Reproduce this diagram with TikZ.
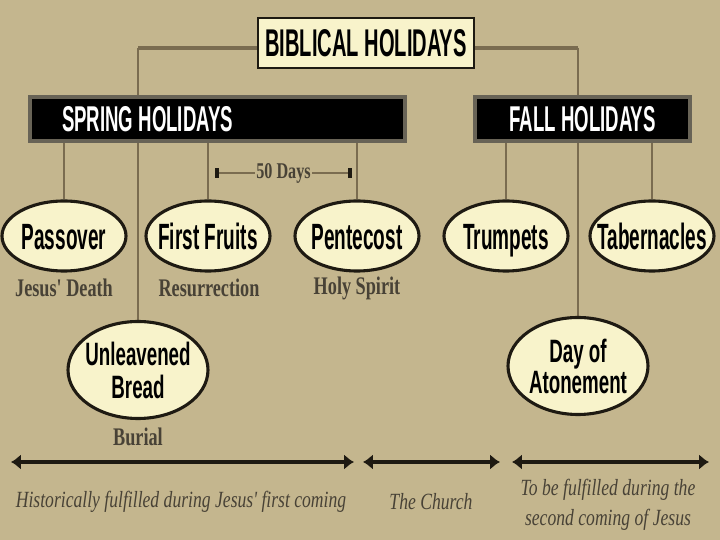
\documentclass[tikz,border=0pt]{standalone}
\usepackage{fontspec}
\usetikzlibrary{shapes.geometric,arrows.meta}

\newfontfamily\condsans[FakeStretch=0.52]{Liberation Sans}
\newfontfamily\widecondsans[FakeStretch=0.58]{Liberation Sans}
\newfontfamily\condserif[FakeStretch=0.72]{Liberation Serif}
\newfontfamily\erafont[FakeStretch=0.76]{Liberation Serif}

\definecolor{tan}{RGB}{196,182,142}
\definecolor{cream}{RGB}{248,243,203}
\definecolor{stemcol}{RGB}{122,108,80}
\definecolor{baredge}{RGB}{104,99,86}
\definecolor{ink}{RGB}{30,26,18}
\definecolor{softink}{RGB}{72,66,54}

\pgfdeclarelayer{bg}
\pgfsetlayers{bg,main}

% text in an oval takes no room, the oval size is fixed
\newcommand{\inoval}[2][-0.36em]{\makebox[0pt]{\raisebox{#1}[0pt][0pt]{#2}}}

\tikzset{
    headbox/.style={draw=ink, line width=2pt, fill=cream, minimum width=5.4cm,
        minimum height=1.25cm, inner sep=0pt,
        font=\condsans\bfseries\fontsize{27.5}{30}\selectfont},
    seasonbar/.style={draw=baredge, line width=2.5pt, fill=black, text=white,
        minimum height=1.1cm, inner sep=0pt,
        font=\condsans\bfseries\fontsize{25.5}{28}\selectfont},
    oval/.style={ellipse, draw=ink, line width=2.2pt, fill=cream,
        minimum width=3.1cm, minimum height=1.75cm, inner sep=0pt,
        font=\condsans\bfseries\fontsize{26}{28}\selectfont},
    bigoval/.style={oval, minimum width=3.5cm, minimum height=2.425cm,
        font=\widecondsans\bfseries\fontsize{23}{22}\selectfont},
    meaning/.style={text=softink, inner sep=0pt,
        font=\condserif\bfseries\fontsize{18}{20}\selectfont},
    era/.style={text=softink, inner sep=0pt, align=center,
        font=\erafont\itshape\fontsize{16.5}{21}\selectfont},
    trunk/.style={stemcol, line width=2.4pt},
    stem/.style={stemcol, line width=1.3pt},
    timeline/.style={ink, line width=3pt, {Latex[length=7pt,width=11pt]}-{Latex[length=7pt,width=11pt]}},
}

\begin{document}
\begin{tikzpicture}
    % headings
    \node[headbox] (title) at (9.15, 12.425) {BIBLICAL HOLIDAYS};
    \node[seasonbar, minimum width=9.375cm] (spring) at (5.4375, 10.525)
        {\makebox[7.775cm][l]{SPRING HOLIDAYS}};
    \node[seasonbar, minimum width=5.375cm] (fall) at (14.5625, 10.525) {FALL HOLIDAYS};

    % the feasts
    \node[oval] (passover) at (1.6, 7.6) {\inoval{Passover}};
    \node[oval] (firstfruits) at (5.2, 7.6) {\inoval{First Fruits}};
    \node[oval] (pentecost) at (8.925, 7.6) {\inoval{Pentecost}};
    \node[oval] (trumpets) at (12.65, 7.6) {\inoval{Trumpets}};
    \node[oval] (tabernacles) at (16.3, 7.6) {\inoval{Tabernacles}};
    \node[bigoval] (unleavened) at (3.45, 4.25)
        {\inoval[-0.42em]{\begin{tabular}{@{}c@{}}Unleavened\\Bread\end{tabular}}};
    \node[bigoval] (atonement) at (14.45, 4.35)
        {\inoval[-0.42em]{\begin{tabular}{@{}c@{}}Day of\\Atonement\end{tabular}}};

    \node[meaning] (death) at (1.6, 6.3) {Jesus' Death};
    \node[meaning] (resurrection) at (5.225, 6.3) {Resurrection};
    \node[meaning] (spirit) at (8.925, 6.3) {Holy Spirit};
    \node[meaning] (burial) at (3.45, 2.575) {Burial};

    % 50 days span
    \coordinate (fruitsday) at (5.375, 9.175);
    \coordinate (pentday) at (8.8, 9.175);
    \draw[stemcol, line width=2pt, {Bar[width=7pt,line width=2.5pt,color=ink]}-{Bar[width=7pt,line width=2.5pt,color=ink]}]
        (fruitsday) -- node[fill=tan, inner xsep=1pt, inner ysep=0pt, text=softink,
        font=\condserif\bfseries\fontsize{16}{18}\selectfont] (fifty) {50 Days} (pentday);

    % time line
    \coordinate (past1) at (0.275, 1.95);
    \coordinate (past2) at (8.85, 1.95);
    \coordinate (church1) at (9.075, 1.95);
    \coordinate (church2) at (12.5, 1.95);
    \coordinate (future1) at (12.8, 1.95);
    \coordinate (future2) at (17.725, 1.95);
    \draw[timeline] (past1) -- (past2);
    \draw[timeline] (church1) -- (church2);
    \draw[timeline] (future1) -- (future2);
    \node[era] (pastnote) at (4.525, 0.95) {Historically fulfilled during Jesus' first coming};
    \node[era] (churchnote) at (10.775, 0.95) {The Church};
    \node[era] (futurenote) at (15.2, 0.875) {To be fulfilled during the\\second coming of Jesus};

    % background and connectors
    \begin{pgfonlayer}{bg}
        \fill[tan] (0, 0) rectangle (18, 13.5);
        \draw[trunk] ([yshift=-0.125cm]title.west) -- ([yshift=-0.125cm]title.west -| unleavened);
        \draw[stem] ([yshift=-0.125cm]title.west -| unleavened) -- (unleavened.north);
        \draw[trunk] ([yshift=-0.125cm]title.east) -- ([yshift=-0.125cm]title.east -| atonement);
        \draw[stem] ([yshift=-0.125cm]title.east -| atonement) -- (atonement.north);
        \draw[stem] (passover |- spring) -- (passover.north);
        \draw[stem] (firstfruits |- spring) -- (firstfruits.north);
        \draw[stem] (pentecost |- spring) -- (pentecost.north);
        \draw[stem] (trumpets |- fall) -- (trumpets.north);
        \draw[stem] (tabernacles |- fall) -- (tabernacles.north);
    \end{pgfonlayer}
    \useasboundingbox (0, 0) rectangle (18, 13.5);
\end{tikzpicture}
\end{document}
